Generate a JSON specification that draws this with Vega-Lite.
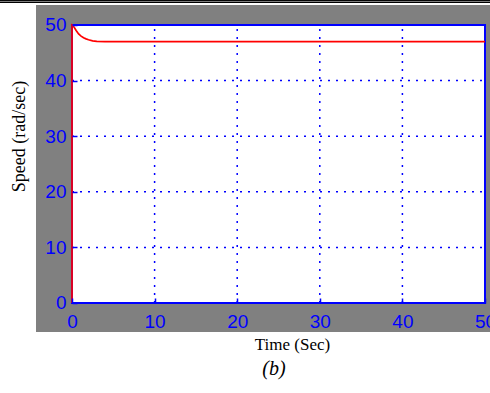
{
  "$schema": "https://vega.github.io/schema/vega-lite/v6.json",
  "width": 454,
  "height": 327,
  "autosize": {"type": "none"},
  "padding": {"left": 36, "top": 5, "right": 0, "bottom": 61},
  "background": "white",
  "config": {"view": {"fill": "#808080", "stroke": null}},
  "title": {
    "text": "(b)",
    "orient": "bottom",
    "anchor": "middle",
    "frame": "group",
    "font": "Liberation Serif",
    "fontSize": 20,
    "fontStyle": "italic",
    "fontWeight": "normal",
    "color": "black",
    "dx": 11,
    "offset": 7
  },
  "layer": [
    {
      "data": {"values": [{"x": 0, "x2": 50, "y": 0, "y2": 50}]},
      "mark": {"type": "rect", "fill": "white", "stroke": null},
      "encoding": {
        "x": {
          "field": "x",
          "type": "quantitative",
          "scale": {"domain": [-4.358, 50.605], "nice": false, "zero": false},
          "axis": {
            "values": [0, 10, 20, 30, 40, 50],
            "format": "d",
            "offset": -29,
            "domain": false,
            "grid": false,
            "ticks": true,
            "tickSize": -5,
            "tickColor": "#0000ff",
            "tickWidth": 1.5,
            "labelPadding": 14,
            "labelFont": "Liberation Sans",
            "labelFontSize": 19,
            "labelColor": "#0000ff",
            "labelFlush": false,
            "labelOverlap": false,
            "labelBound": false,
            "title": "Time (Sec)",
            "titleFont": "Liberation Serif",
            "titleFontSize": 17,
            "titleFontWeight": "normal",
            "titleColor": "black",
            "titleX": 256,
            "titleY": 41,
            "titleAlign": "center",
            "titleBaseline": "middle",
            "zindex": 1
          }
        },
        "x2": {"field": "x2"},
        "y": {
          "field": "y",
          "type": "quantitative",
          "scale": {"domain": [-5.216, 53.597], "nice": false, "zero": false},
          "axis": {
            "values": [0, 10, 20, 30, 40, 50],
            "format": "d",
            "offset": -36,
            "domain": false,
            "grid": false,
            "ticks": true,
            "tickSize": -5,
            "tickColor": "#0000ff",
            "tickWidth": 1.5,
            "labelPadding": 11,
            "labelFont": "Liberation Sans",
            "labelFontSize": 19,
            "labelColor": "#0000ff",
            "labelOverlap": false,
            "labelBound": false,
            "labelFlush": false,
            "title": "Speed (rad/sec)",
            "titleFont": "Liberation Serif",
            "titleFontSize": 18,
            "titleFontWeight": "normal",
            "titleColor": "black",
            "titleX": -53,
            "titleY": 131,
            "titleAngle": -90,
            "titleAlign": "center",
            "titleBaseline": "middle",
            "zindex": 1
          }
        },
        "y2": {"field": "y2"}
      }
    },
    {
      "data": {"values": [
        {"x": 10, "y": 0, "y2": 50},
        {"x": 20, "y": 0, "y2": 50},
        {"x": 30, "y": 0, "y2": 50},
        {"x": 40, "y": 0, "y2": 50}
      ]},
      "mark": {"type": "rule", "color": "#0000ff", "strokeWidth": 1.5, "strokeDash": [2, 6]},
      "encoding": {
        "x": {"field": "x", "type": "quantitative"},
        "y": {"field": "y", "type": "quantitative"},
        "y2": {"field": "y2"}
      }
    },
    {
      "data": {"values": [
        {"y": 10, "x": 0, "x2": 50},
        {"y": 20, "x": 0, "x2": 50},
        {"y": 30, "x": 0, "x2": 50},
        {"y": 40, "x": 0, "x2": 50}
      ]},
      "mark": {"type": "rule", "color": "#0000ff", "strokeWidth": 1.5, "strokeDash": [2, 6]},
      "encoding": {
        "y": {"field": "y", "type": "quantitative"},
        "x": {"field": "x", "type": "quantitative"},
        "x2": {"field": "x2"}
      }
    },
    {
      "data": {"values": [{"x": 0, "x2": 50, "y": 0, "y2": 50}]},
      "mark": {"type": "rect", "filled": false, "fill": null, "stroke": "#0000ff", "strokeWidth": 2},
      "encoding": {
        "x": {"field": "x", "type": "quantitative"},
        "x2": {"field": "x2"},
        "y": {"field": "y", "type": "quantitative"},
        "y2": {"field": "y2"}
      }
    },
    {
      "data": {"values": [
        {"i": 0, "x": 0, "y": 0},
        {"i": 1, "x": 0, "y": 50},
        {"i": 2, "x": 0.1, "y": 49.9},
        {"i": 3, "x": 0.3, "y": 49.5},
        {"i": 4, "x": 0.5, "y": 49.0},
        {"i": 5, "x": 0.8, "y": 48.4},
        {"i": 6, "x": 1.1, "y": 48.0},
        {"i": 7, "x": 1.4, "y": 47.7},
        {"i": 8, "x": 1.7, "y": 47.5},
        {"i": 9, "x": 2.0, "y": 47.35},
        {"i": 10, "x": 2.5, "y": 47.15},
        {"i": 11, "x": 3.0, "y": 47.05},
        {"i": 12, "x": 4.0, "y": 47.0},
        {"i": 13, "x": 50, "y": 47.0}
      ]},
      "mark": {"type": "line", "color": "#ff0000", "strokeWidth": 1.7},
      "encoding": {
        "x": {"field": "x", "type": "quantitative"},
        "y": {"field": "y", "type": "quantitative"},
        "order": {"field": "i", "type": "quantitative"}
      }
    },
    {
      "data": {"values": [
        {"x": -8.72, "x2": 50.61, "y": 54.41, "w": "thin"},
        {"x": -8.72, "x2": 50.61, "y": 54.1, "w": "thick"}
      ]},
      "mark": {"type": "rule", "color": "black", "clip": false},
      "encoding": {
        "x": {"field": "x", "type": "quantitative"},
        "x2": {"field": "x2"},
        "y": {"field": "y", "type": "quantitative"},
        "strokeWidth": {"field": "w", "type": "nominal", "scale": {"domain": ["thin", "thick"], "range": [1, 1.5]}, "legend": null}
      }
    }
  ]
}
